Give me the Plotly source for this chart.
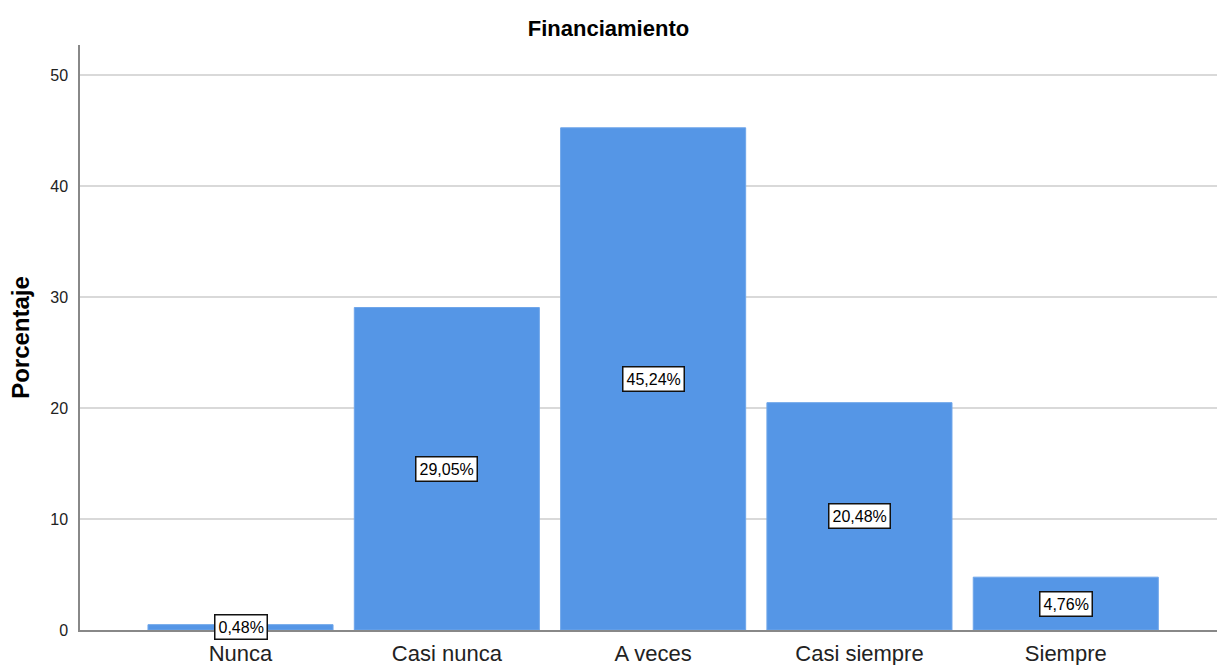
import plotly.graph_objects as go

categories = ["Nunca", "Casi nunca", "A veces", "Casi siempre", "Siempre"]
values = [0.48, 29.05, 45.24, 20.48, 4.76]
labels = ["0,48%", "29,05%", "45,24%", "20,48%", "4,76%"]
y_ticks = [0, 10, 20, 30, 40, 50]

fig = go.Figure()
fig.add_trace(go.Bar(
    x=categories, y=values,
    marker=dict(color="#5596E6", line=dict(color="#6FA6EA", width=1)),
    hoverinfo="skip",
))

for c, v, t in zip(categories, values, labels):
    fig.add_annotation(
        x=c, y=v / 2, text=t, showarrow=False,
        font=dict(family="Liberation Sans, Arial", size=16, color="#000"),
        bgcolor="white", bordercolor="#111", borderwidth=1.5, borderpad=3,
    )

fig.update_layout(
    width=1217, height=665,
    margin=dict(l=80, r=0, t=45, b=35, pad=0),
    paper_bgcolor="white", plot_bgcolor="white",
    bargap=0.103,
    showlegend=False,
    font=dict(family="Liberation Sans, Arial", color="#000"),
    title=dict(text="<b>Financiamiento</b>", x=0.5, xanchor="center",
               y=1 - 28 / 665, yanchor="middle",
               font=dict(size=22, color="#000")),
    xaxis=dict(
        range=[-0.778, 4.733],
        showline=True, linecolor="#888", linewidth=1.5,
        showgrid=False, ticks="", ticklen=0, tickfont=dict(size=22, color="#222"),
        ticklabelstandoff=3,
    ),
    yaxis=dict(
        range=[0, 52.7],
        tickvals=y_ticks,
        showline=True, linecolor="#888", linewidth=1.5,
        showgrid=True, gridcolor="#D9D9D9", gridwidth=2,
        zeroline=False, ticks="", ticklen=0, tickfont=dict(size=16, color="#222"),
        ticklabelstandoff=7,
        title=dict(text="<b>Porcentaje</b>", font=dict(size=24, color="#000"), standoff=14),
    ),
)

fig.write_html("out.html", config={"responsive": False, "displayModeBar": False},
               post_script="document.body.style.margin='0';document.body.style.overflow='hidden';")
